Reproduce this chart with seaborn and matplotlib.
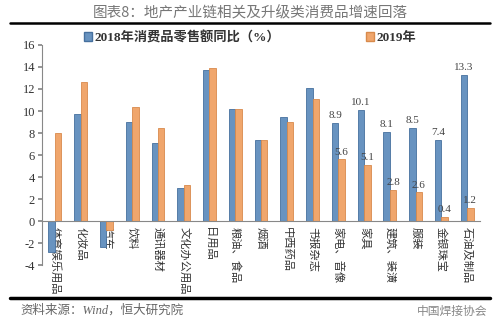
import matplotlib
matplotlib.use("Agg")
import matplotlib.pyplot as plt
import seaborn as sns
import pandas as pd
import numpy as np
from matplotlib.lines import Line2D
from matplotlib.patches import Patch

categories = ["体育娱乐用品", "化妆品", "汽车", "饮料", "通讯器材", "文化办公用品", "日用品",
              "粮油、食品", "烟酒", "中西药品", "书报杂志", "家电、音像", "家具", "建筑、装潢",
              "服装", "金银珠宝", "石油及制品"]
v2018 = [-2.8, 9.7, -2.4, 9.0, 7.1, 3.0, 13.7, 10.2, 7.4, 9.5, 12.1, 8.9, 10.1, 8.1, 8.5, 7.4, 13.3]
v2019 = [8.0, 12.6, -0.8, 10.4, 8.5, 3.3, 13.9, 10.2, 7.4, 9.0, 11.1, 5.6, 5.1, 2.8, 2.6, 0.4, 1.2]
series = ["2018年消费品零售额同比（%）", "2019年"]
labeled_from = 11  # value labels shown from 家电、音像 onward
yticks = list(range(-4, 17, 2))

sns.set_theme(style="white")
plt.rcParams['font.family'] = ['Liberation Serif', 'Noto Sans CJK SC', 'DejaVu Sans']

df = pd.DataFrame({
    "cat": categories * 2,
    "val": v2018 + v2019,
    "year": [series[0]] * len(categories) + [series[1]] * len(categories),
})

fig = plt.figure(figsize=(5.0, 3.26), dpi=100)
ax = fig.add_axes([0.084, 0.187, 0.876, 0.675])

blue = "#6893c0"
orange = "#f0a66c"
sns.barplot(data=df, x="cat", y="val", hue="year", palette=[blue, orange],
            width=0.5, gap=0, saturation=1, ax=ax, legend=False)
edge_cols = ["#46709e", "#d88a4c"]
for cont, ec in zip(ax.containers, edge_cols):
    for p in cont:
        p.set_edgecolor(ec)
        p.set_linewidth(0.6)

for cont, vals in zip(ax.containers, [v2018, v2019]):
    labs = [f"{v:.1f}" if i >= labeled_from else "" for i, v in enumerate(vals)]
    ax.bar_label(cont, labels=labs, padding=2, fontsize=8, color="#444444",
                 family=['Liberation Serif'])

ax.set_ylim(-4, 16)
ax.set_xlim(-0.5, len(categories) - 0.5)
ax.set_yticks(yticks)
ax.set_yticklabels([str(t) for t in yticks], fontsize=9, color="#333333")
ax.set_xlabel("")
ax.set_ylabel("")

ax.spines['top'].set_visible(False)
ax.spines['right'].set_visible(False)
ax.spines['bottom'].set_position(('data', 0))
for s in ['left', 'bottom']:
    ax.spines[s].set_color("#888888")
    ax.spines[s].set_linewidth(0.8)

ax.set_xticks(range(len(categories)))
ax.set_xticklabels(categories, rotation=270, fontsize=8.1, color="#333333",
                   family=['Noto Sans CJK SC'], va='top', ha='center')
ax.tick_params(axis='x', which='major', length=0, pad=4)
ax.set_xticks(np.arange(-0.5, len(categories), 1), minor=True)
ax.tick_params(axis='x', which='minor', length=3, color="#888888", direction='out')
ax.tick_params(axis='y', length=3, color="#888888", direction='out', left=True, pad=2)

handles = [Patch(facecolor=blue, edgecolor=edge_cols[0]), Patch(facecolor=orange, edgecolor=edge_cols[1])]
leg = fig.legend(handles, series, loc='center', bbox_to_anchor=(0.5, 0.885), ncol=2,
                 frameon=False, handlelength=0.6, handleheight=0.6, handletextpad=0.2,
                 columnspacing=6.5,
                 prop={'family': ['Liberation Serif', 'Noto Sans CJK SC'], 'weight': 'bold', 'size': 9.5})
for t in leg.get_texts():
    t.set_color("#333333")

fig.text(0.5, 0.958, "图表8：地产产业链相关及升级类消费品增速回落", ha='center', va='center',
         fontsize=10.5, color="#777777", family=['Noto Sans CJK SC'])
fig.add_artist(Line2D([0.02, 0.98], [1 - 23 / 326, 1 - 23 / 326], color="black", lw=1.8))
fig.add_artist(Line2D([0.02, 0.98], [1 - 298 / 326, 1 - 298 / 326], color="black", lw=2.5))
fig.text(0.04, 1 - 310 / 326, "资料来源：Wind，恒大研究院", ha='left', va='center',
         fontsize=9, color="#666666", style='italic',
         family=['Liberation Serif', 'Noto Sans CJK SC'])
fig.text(0.975, 1 - 311 / 326, "中国焊接协会", ha='right', va='center',
         fontsize=8.5, color="#888888", family=['Noto Sans CJK SC'])

fig.savefig("out.png", dpi=100)
